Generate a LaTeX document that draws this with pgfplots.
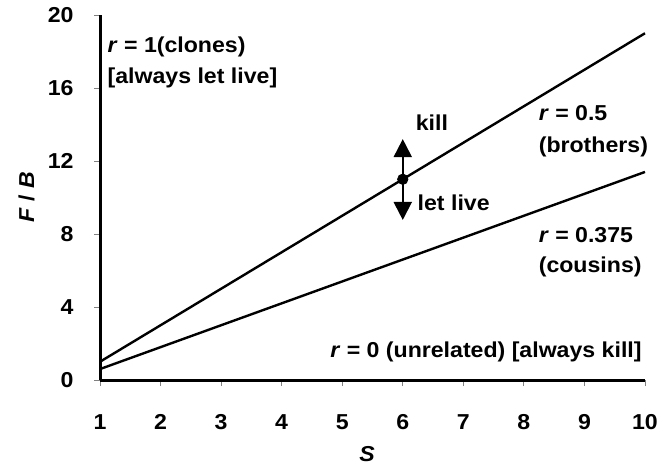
\documentclass[border=0pt]{standalone}
\usepackage{fontspec}
\setmainfont{Liberation Sans}[FakeStretch=1.07]
\usepackage{pgfplots}
\pgfplotsset{compat=1.18}
\usetikzlibrary{arrows.meta}
\newcommand\lf{\fontsize{10.8}{13}\selectfont\bfseries}
\begin{document}
\begin{tikzpicture}
\begin{axis}[
  scale only axis, width=272.5pt, height=182.5pt,
  xmin=1, xmax=10, ymin=0, ymax=20,
  xtick={1,2,...,10}, ytick={0,4,...,20},
  axis lines=left, axis line style={-, line width=0.4pt, gray},
  tick style={gray, line width=0.4pt}, tick align=outside, major tick length=3pt,
  clip=false,
  /pgf/number format/assume math mode=true,
  ticklabel style={font=\lf, inner sep=0pt},
  xticklabel style={anchor=center, yshift=-18pt},
  yticklabel style={anchor=east, xshift=-10pt},
  xlabel={\textit{S}},
  xlabel style={font=\lf, at={(axis description cs:0.49,0)}, anchor=center, yshift=-37pt},
  ylabel={\textit{F} / \textit{B}},
  ylabel style={font=\lf, at={(axis description cs:-0.135,0.5)}, anchor=center},
]
\addplot[black, line width=1.2pt] coordinates {(1,1) (10,19)};
\addplot[black, line width=1.2pt] coordinates {(1,0.6) (10,11.4)};
\addplot[black, line width=1.5pt] coordinates {(1,0) (10,0)};
\addplot[black, line width=1.5pt] coordinates {(1,0) (1,20)};
\addplot[black, line width=1pt, {Triangle[width=9pt,length=9pt]}-{Triangle[width=9pt,length=9pt]}] coordinates {(6,8.77) (6,13.2)};
\addplot[black, only marks, mark=*, mark size=2.6pt] coordinates {(6,11)};
\node[anchor=west, font=\lf, inner sep=0pt] at (axis cs:1.12,18.27) {\textit{r} = 1(clones)};
\node[anchor=west, font=\lf, inner sep=0pt] at (axis cs:1.12,16.55) {[always let live]};
\node[anchor=west, font=\lf, inner sep=0pt] at (axis cs:6.21,14.08) {kill};
\node[anchor=west, font=\lf, inner sep=0pt] at (axis cs:6.24,9.7) {let live};
\node[anchor=west, font=\lf, inner sep=0pt] at (axis cs:8.24,14.63) {\textit{r} = 0.5};
\node[anchor=west, font=\lf, inner sep=0pt] at (axis cs:8.24,12.77) {(brothers)};
\node[anchor=west, font=\lf, inner sep=0pt] at (axis cs:8.24,7.95) {\textit{r} = 0.375};
\node[anchor=west, font=\lf, inner sep=0pt] at (axis cs:8.24,6.19) {(cousins)};
\node[anchor=east, font=\lf, inner sep=0pt] at (axis cs:9.95,1.53) {\textit{r} = 0 (unrelated) [always kill]};
\end{axis}
\pgfresetboundingbox
\path[use as bounding box] (current axis.south west) ++(-50pt,-43.5pt) rectangle ++(334pt,233.5pt);
\end{tikzpicture}
\end{document}
